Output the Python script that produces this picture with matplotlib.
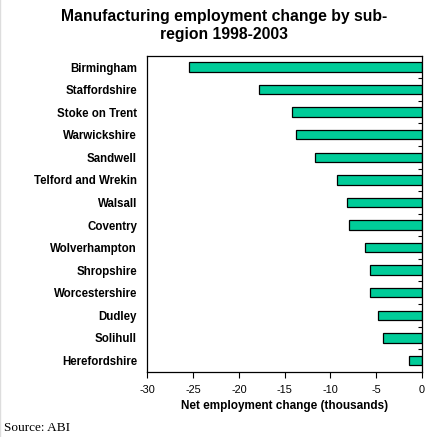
import matplotlib
matplotlib.use("Agg")
import matplotlib.pyplot as plt
from matplotlib.lines import Line2D
import numpy as np

regions = ["Birmingham", "Staffordshire", "Stoke on Trent", "Warwickshire",
           "Sandwell", "Telford and Wrekin", "Walsall", "Coventry",
           "Wolverhampton", "Shropshire", "Worcestershire", "Dudley",
           "Solihull", "Herefordshire"]
change = [-25.5, -17.8, -14.2, -13.7, -11.7, -9.3, -8.2, -7.9,
          -6.2, -5.7, -5.7, -4.8, -4.2, -1.4]
xticks = [-30, -25, -20, -15, -10, -5, 0]

plt.rcParams["font.family"] = ["Liberation Sans", "DejaVu Sans"]

fig = plt.figure(figsize=(4.31, 4.37), dpi=100)
ax = fig.add_axes([0.3422, 0.1494, 0.6362, 0.7231])

y = np.arange(len(regions))
ax.barh(y, change, height=0.42, color="#00CC99", edgecolor="black",
        linewidth=0.9, zorder=2)

ax.set_xlim(-30, 0)
ax.set_ylim(len(regions) - 0.5, -0.5)
ax.set_xticks(xticks)
ax.set_xticklabels([str(t) for t in xticks], fontsize=7.8)
ax.tick_params(axis="x", direction="out", length=4, width=0.8, pad=5.3)

ax.set_yticks(y)
ax.set_yticklabels(regions, fontsize=8.3, fontweight="bold")
ax.tick_params(axis="y", which="major", length=0, pad=7.5)
ax.set_yticks(np.arange(len(regions) - 1) + 0.5, minor=True)
ax.tick_params(axis="y", which="minor", left=False, right=True,
               direction="in", length=3, width=0.8)

for s in ax.spines.values():
    s.set_linewidth(0.9)
    s.set_color("black")

ax.set_xlabel("Net employment change (thousands)", fontsize=8.5,
              fontweight="bold", labelpad=3.8)

fig.text(0.52, 0.979, "Manufacturing employment change by sub-\nregion 1998-2003",
         ha="center", va="top", fontsize=11.3, fontweight="bold",
         linespacing=1.27)
fig.text(0.009, 0.0066, "Source: ABI", ha="left", va="bottom",
         fontsize=9.5, family=["Liberation Serif", "DejaVu Serif"])

fig.add_artist(Line2D([0.001, 0.001], [0, 1], transform=fig.transFigure,
                      color="#dddddd", linewidth=1))

fig.savefig("out.png", dpi=100)
